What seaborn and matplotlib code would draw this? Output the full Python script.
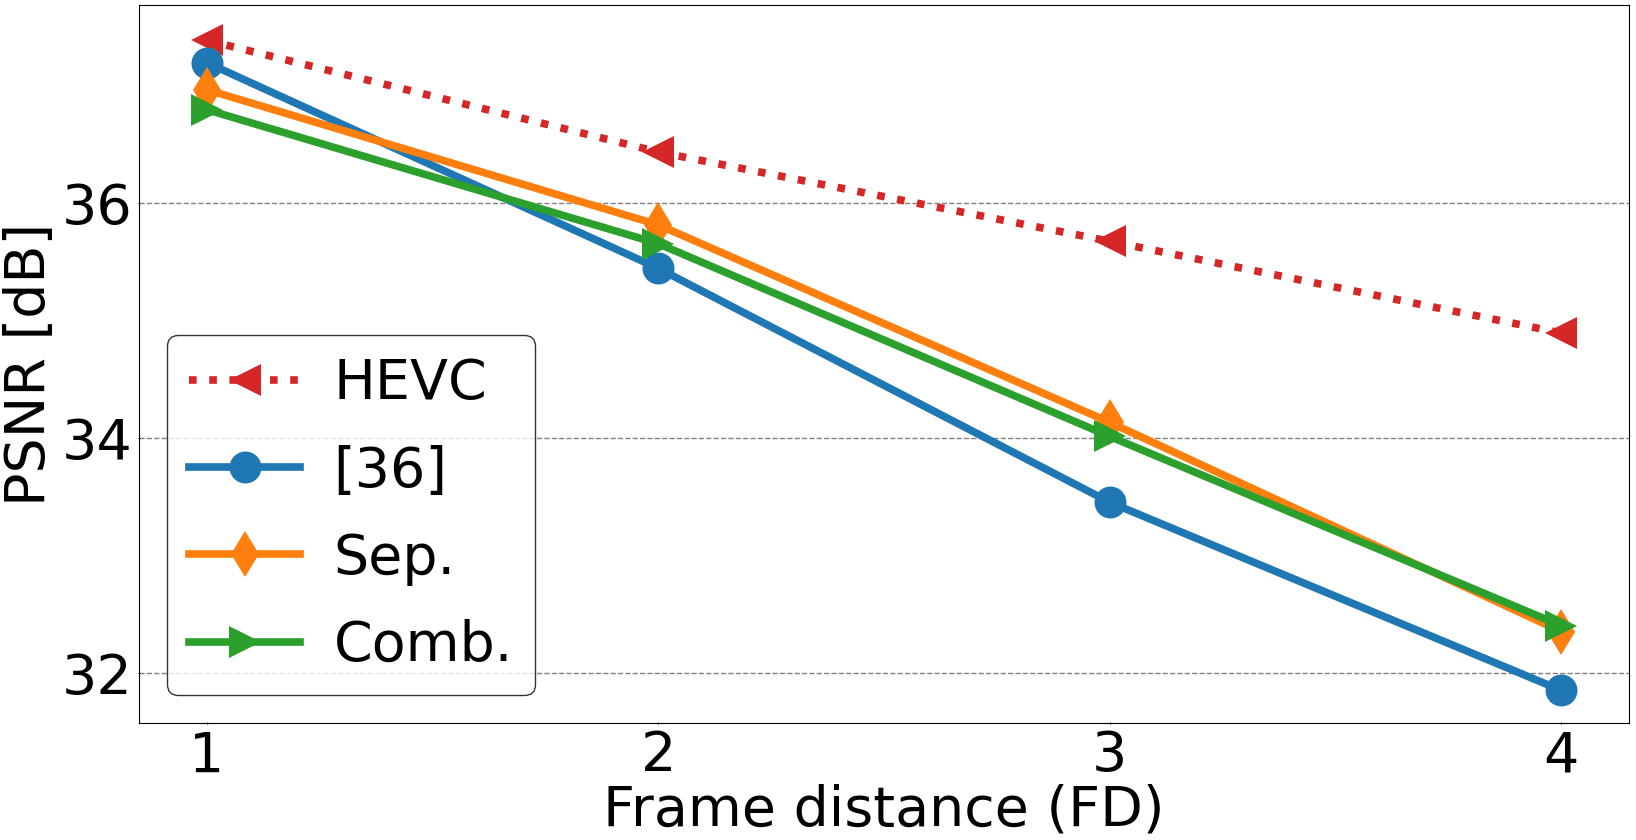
import pandas as pd
import matplotlib
matplotlib.use("Agg")
import matplotlib.pyplot as plt
import seaborn as sns

fd = [1, 2, 3, 4]
hevc = [37.38, 36.43, 35.67, 34.89]
ref36 = [37.19, 35.44, 33.45, 31.85]
sep = [36.96, 35.81, 34.13, 32.35]
comb = [36.79, 35.65, 34.01, 32.40]

series = [
    ("HEVC", hevc, "#d62728", "<", ":"),
    ("[36]", ref36, "#1f77b4", "o", "-"),
    ("Sep.", sep, "#ff7f0e", "d", "-"),
    ("Comb.", comb, "#2ca02c", ">", "-"),
]

fig = plt.figure(figsize=(16.36, 8.4), dpi=100)
ax = fig.add_axes([0.085, 0.139, 0.9107, 0.855])

for name, vals, color, marker, ls in series:
    df = pd.DataFrame({"fd": fd, "psnr": vals})
    sns.lineplot(data=df, x="fd", y="psnr", ax=ax, color=color, marker=marker,
                 linestyle=ls, linewidth=5.5, markersize=23, markeredgewidth=0,
                 label=name)

ax.set_xticks(fd)
ax.set_yticks([32, 34, 36])
ax.set_ylim(31.57, 37.68)
ax.tick_params(labelsize=40, direction="inout", length=2)
ax.yaxis.grid(True, linestyle="--", color="gray", linewidth=1)
ax.set_axisbelow(True)
ax.set_xlabel("Frame distance (FD)", fontsize=40, labelpad=0)
ax.set_ylabel("PSNR [dB]", fontsize=40)

leg = ax.legend(loc="lower left", fontsize=40, handletextpad=0.6,
                labelspacing=0.6)
leg.get_frame().set_edgecolor("black")

fig.savefig("out.png", dpi=100)
